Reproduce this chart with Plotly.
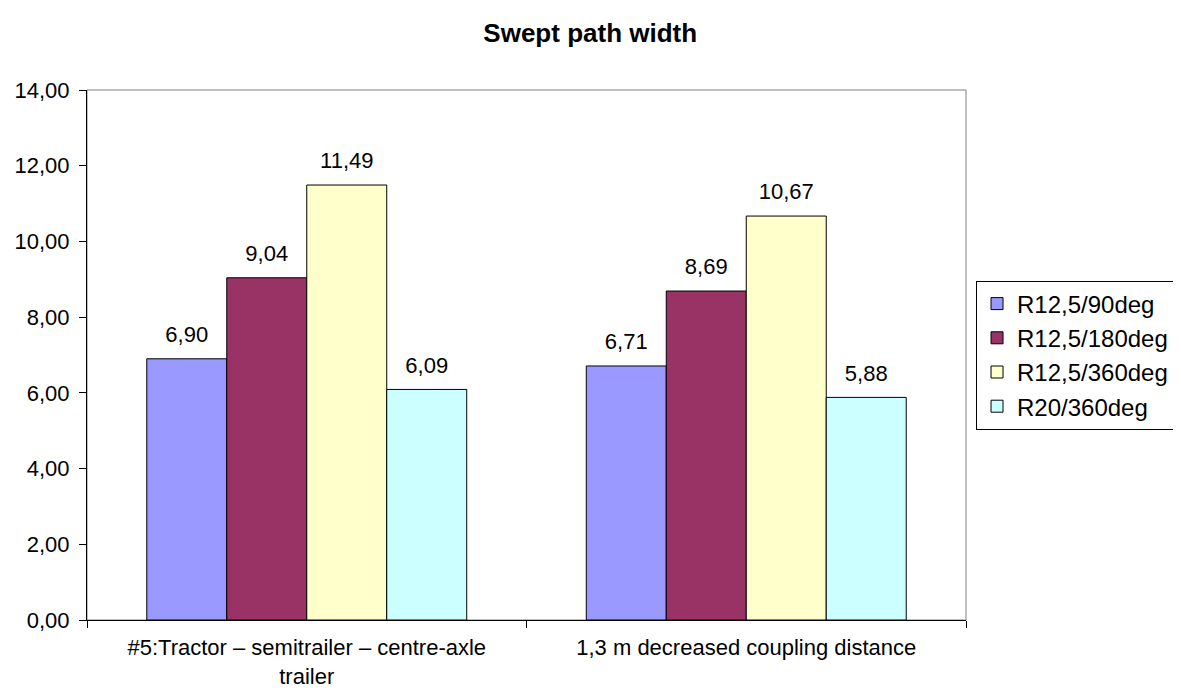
import plotly.graph_objects as go

categories = ["#5:Tractor – semitrailer – centre-axle<br>trailer", "1,3 m decreased coupling distance"]
series_names = ["R12,5/90deg", "R12,5/180deg", "R12,5/360deg", "R20/360deg"]
values_90 = [6.90, 6.71]
values_180 = [9.04, 8.69]
values_360 = [11.49, 10.67]
values_r20 = [6.09, 5.88]
colors = ["#9999FF", "#993366", "#FFFFCC", "#CCFFFF"]

fig = go.Figure()
for name, vals, col in zip(series_names, [values_90, values_180, values_360, values_r20], colors):
    fig.add_trace(go.Bar(
        x=categories, y=vals, name=name, legendgroup=name,
        marker=dict(color=col, line=dict(color="black", width=1)),
        texttemplate="<span style='font-size:22px'>%{y:.2f}</span><br> ", textposition="outside",
        textfont=dict(size=9, color="black", family="Liberation Sans, Arial"),
        cliponaxis=False,
    ))

fig.update_layout(
    width=1181, height=690,
    separators=",.",
    paper_bgcolor="white", plot_bgcolor="white",
    barmode="group", bargap=0.272, bargroupgap=0,
    margin=dict(l=79, r=223, t=82, b=78, autoexpand=False),
    title=dict(text="<b>Swept path width</b>", x=0.493, xanchor="center", y=0.964, yanchor="middle",
               font=dict(size=26, family="Liberation Sans, Arial", color="black")),
    font=dict(family="Liberation Sans, Arial", color="black", size=22),
    legend=dict(x=1.0114, xanchor="left", y=0.5, yanchor="middle",
                bordercolor="black", borderwidth=1,
                font=dict(size=24, family="Liberation Sans, Arial"),
                itemwidth=30, tracegroupgap=4, traceorder="normal"),
    xaxis=dict(showline=True, linecolor="black", linewidth=1, mirror=False,
               ticks="outside", ticklen=7, tickcolor="black",
               tickson="boundaries", ticklabelstandoff=8,
               tickfont=dict(size=22, family="Liberation Sans, Arial")),
    yaxis=dict(range=[0, 14], dtick=2, tickformat=".2f", showgrid=False,
               showline=True, linecolor="black", linewidth=1,
               ticks="outside", ticklen=7, tickcolor="black", ticklabelstandoff=5,
               tickfont=dict(size=22), zeroline=False),
    shapes=[dict(type="rect", xref="paper", yref="paper", x0=0, x1=1, y0=0, y1=1,
                 line=dict(color="#808080", width=1), layer="below")],
)

fig.write_html("out.html")
